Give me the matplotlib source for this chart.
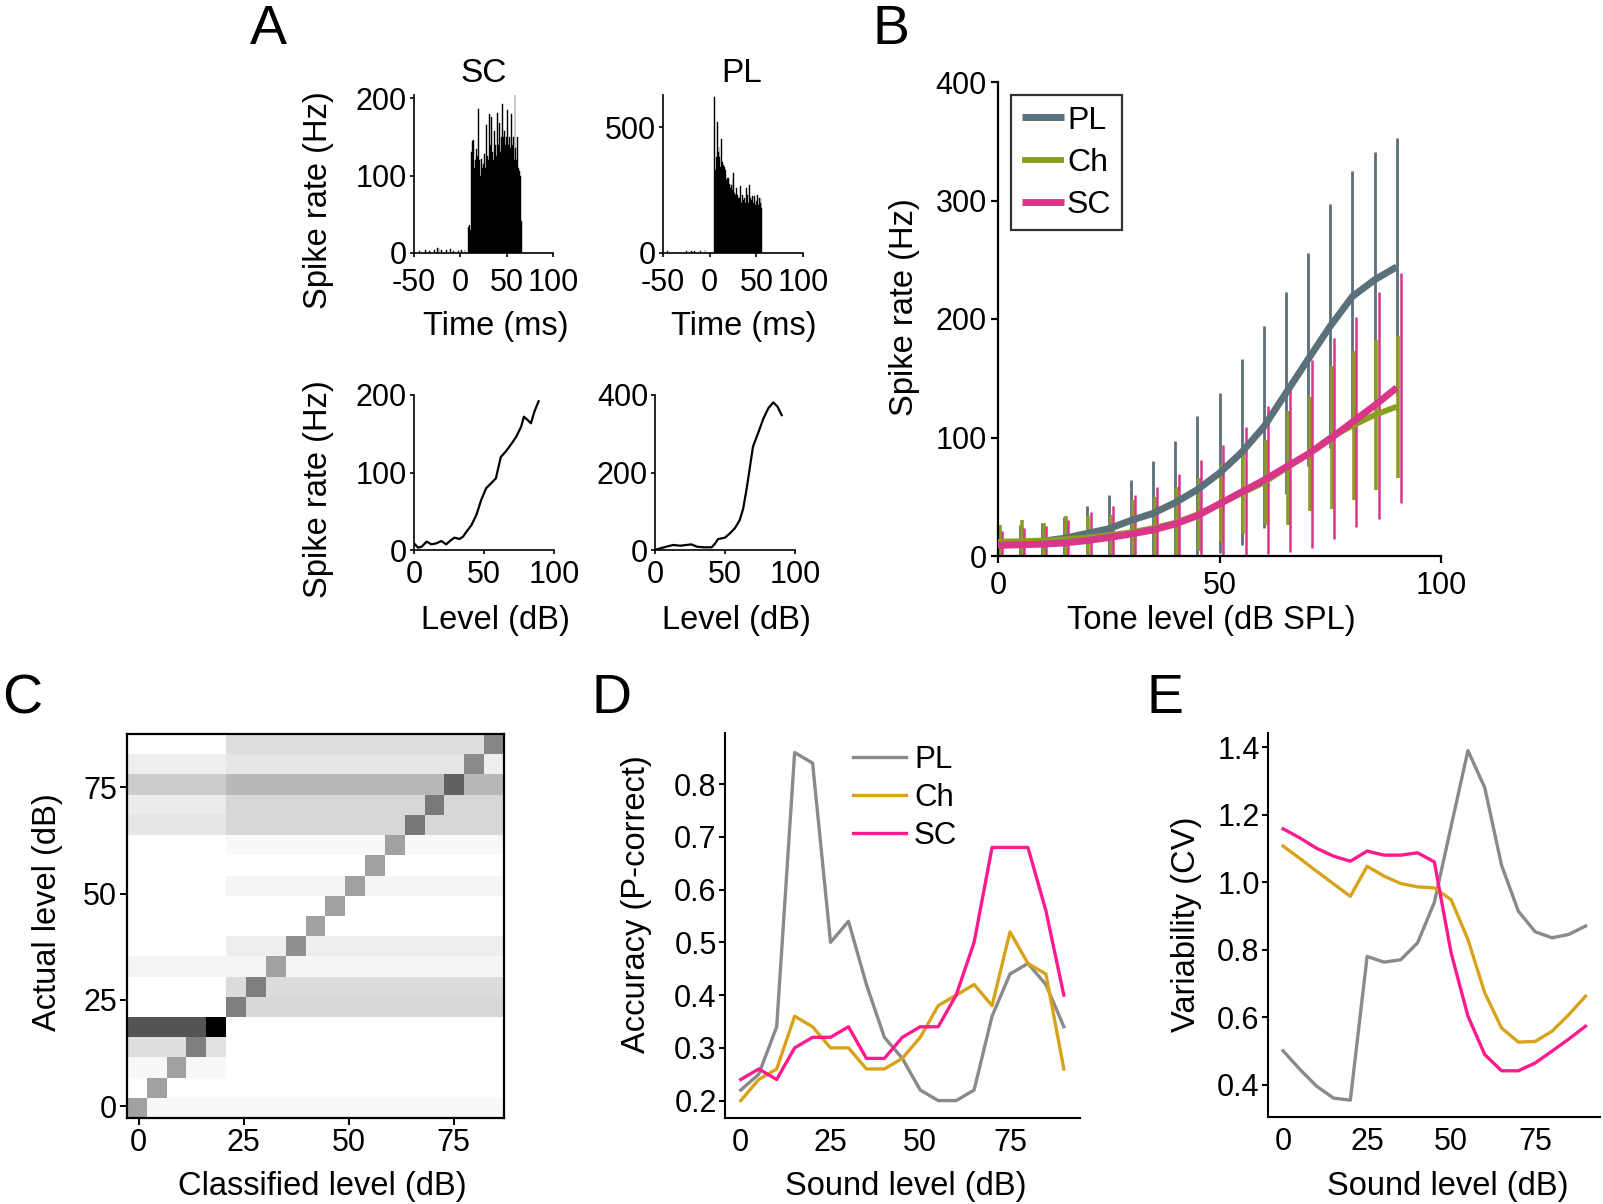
import numpy as np
import matplotlib
matplotlib.use("Agg")
import matplotlib.pyplot as plt

plt.rcParams['font.family'] = ['Liberation Sans', 'DejaVu Sans']
plt.rcParams['axes.unicode_minus'] = False

W, H = 1603, 1204

# ---------------- Panel A data ----------------
# PSTH, SC unit (time in ms, rate in Hz)
sc_psth_t = [-44, -38, -33, -28, -25, -23, -20, -15, -11, -7, -2, 1, 5, 9, 10, 11,
             12, 13, 14, 15, 16, 17, 18, 19, 20, 21, 22, 23, 24, 25, 26, 27, 28, 29,
             30, 31, 32, 33, 34, 35, 36, 37, 38, 39, 40, 41, 42, 43, 44, 45, 46, 47,
             48, 49, 50, 51, 52, 53, 54, 55, 56, 57, 58, 59, 60, 61, 62, 63, 64, 65, 66]
sc_psth_r = [3, 4, 3, 4, 6, 7, 4, 4, 5, 3, 3, 4, 4, 33, 36, 30,
             130, 145, 146, 110, 120, 134, 105, 125, 186, 120, 100, 122, 110, 115, 128, 110, 165, 125,
             120, 180, 130, 140, 176, 130, 120, 158, 140, 125, 181, 140, 168, 130, 150, 135, 193, 150,
             158, 140, 150, 185, 140, 150, 135, 180, 140, 150, 120, 204, 135, 120, 150, 110, 106, 100, 41]

# PSTH, PL unit
pl_psth_t = [-45, -25, -19, -16, -10, -5,
             5, 6, 7, 8, 9, 10, 11, 12, 13, 14, 15, 16, 17, 18, 19, 20, 21, 22, 23, 24, 25,
             26, 27, 28, 29, 30, 31, 32, 33, 34, 35, 36, 37, 38, 39, 40, 41, 42, 43, 44, 45,
             46, 47, 48, 49, 50, 51, 52, 53, 54, 55, 56]
pl_psth_r = [6, 7, 7, 9, 7, 11,
             620, 330, 380, 520, 400, 420, 380, 340, 455, 360, 350, 340, 330, 290, 300, 300, 275,
             260, 270, 250, 300, 318, 240, 232, 259, 230, 219, 220, 265, 200, 232, 210, 219, 200,
             259, 215, 232, 200, 272, 219, 210, 225, 200, 225, 190, 205, 232, 190, 219, 200, 219, 180]

# Rate-level functions (level dB, rate Hz)
sc_rl_level = [0, 3, 5.5, 9, 12.5, 16, 19.5, 23, 26.5, 29, 32.5, 35, 37.5, 41, 44.5, 48,
               51.5, 55, 58.5, 62, 65.5, 69, 73, 76.5, 78.5, 81, 83.5, 86, 89]
sc_rl_rate = [8.6, 3, 4.3, 10.8, 7.3, 8.6, 11.6, 7.3, 12.9, 16, 14.2, 17.2, 23.7, 32, 45, 64.5,
              79.6, 86, 92.5, 120, 127, 135.5, 146, 159, 172, 168, 163.5, 178.5, 192]
pl_rl_level = [0, 3.5, 8, 13, 18, 22.5, 26, 30, 34.5, 40.5, 43, 45, 50, 53.5, 57, 60.5,
               63, 65.5, 68, 70, 74, 77.5, 81, 84.5, 87.5, 90.5]
pl_rl_rate = [0, 4, 8.5, 13, 11, 13, 14.5, 8.5, 7, 7, 17, 28, 32, 43, 56, 77,
              107, 159, 219, 267, 305, 340, 366, 381, 370, 348]

# ---------------- Panel B data ----------------
tone_levels = [0, 5, 10, 15, 20, 25, 30, 35, 40, 45, 50, 55, 60, 65, 70, 75, 80, 85, 90]
b_pl_mean = [9.4, 11, 12.5, 15, 19, 23, 30, 36, 45, 56, 70, 87.5, 109, 137.5, 166, 194, 219, 233, 244]
b_pl_sd = [14, 15, 15, 18, 23, 28.5, 34, 44, 52, 62, 67.5, 78.5, 85, 85.5, 90, 103, 106, 108, 109]
b_ch_mean = [12, 12.5, 13, 14, 15.5, 17.5, 20, 23.5, 28, 35, 44, 53, 62, 74, 86, 100, 110, 119, 126]
b_ch_sd = [14, 17.5, 15, 20, 18.5, 17.5, 27, 26.5, 30, 30.6, 32.6, 34.5, 36, 48, 48, 60, 63, 63, 60]
b_sc_mean = [9, 9.5, 10, 11, 13, 15.5, 18.5, 22, 27, 34, 44, 54, 64, 75, 86, 99, 113, 127, 142]
b_sc_sd = [12, 14.5, 15.6, 19, 24, 26.5, 33, 36, 42, 47, 50, 55, 62.5, 72, 79, 85, 88.5, 95.5, 97]

# ---------------- Panel C data (confusion matrix, rows = actual level) ----------------
confusion = [
    [0.37] + [0.03] * 18,                                           # 0 dB
    [0.0, 0.37] + [0.0] * 17,                                       # 5
    [0.03, 0.03, 0.37, 0.03, 0.03] + [0.0] * 14,                    # 10
    [0.13, 0.13, 0.13, 0.50, 0.12] + [0.0] * 14,                    # 15
    [0.67, 0.67, 0.67, 0.67, 1.0] + [0.0] * 14,                     # 20
    [0.0] * 5 + [0.50] + [0.16] * 13,                               # 25
    [0.0] * 5 + [0.14, 0.50] + [0.14] * 12,                         # 30
    [0.04] * 7 + [0.37] + [0.04] * 11,                              # 35
    [0.0] * 5 + [0.07] * 3 + [0.44] + [0.07] * 10,                  # 40
    [0.0] * 9 + [0.37] + [0.0] * 9,                                 # 45
    [0.0] * 10 + [0.37] + [0.0] * 8,                                # 50
    [0.0] * 5 + [0.04] * 6 + [0.37] + [0.04] * 7,                   # 55
    [0.0] * 12 + [0.37] + [0.0] * 6,                                # 60
    [0.0] * 5 + [0.03] * 8 + [0.37] + [0.03] * 5,                   # 65
    [0.10] * 5 + [0.16] * 9 + [0.53] + [0.16] * 4,                  # 70
    [0.075] * 5 + [0.16] * 10 + [0.52] + [0.16] * 3,                # 75
    [0.20] * 5 + [0.28] * 11 + [0.62] + [0.28] * 2,                 # 80
    [0.07] * 5 + [0.10] * 12 + [0.46] + [0.07],                     # 85
    [0.0] * 5 + [0.13] * 13 + [0.47],                               # 90
]

# ---------------- Panel D / E data ----------------
sound_levels = [0, 5, 10, 15, 20, 25, 30, 35, 40, 45, 50, 55, 60, 65, 70, 75, 80, 85, 90]
acc_pl = [0.22, 0.25, 0.34, 0.86, 0.84, 0.50, 0.54, 0.42, 0.32, 0.28, 0.22, 0.20, 0.20, 0.22, 0.36, 0.44, 0.46, 0.42, 0.34]
acc_ch = [0.20, 0.24, 0.26, 0.36, 0.34, 0.30, 0.30, 0.26, 0.26, 0.28, 0.32, 0.38, 0.40, 0.42, 0.38, 0.52, 0.46, 0.44, 0.26]
acc_sc = [0.24, 0.26, 0.24, 0.30, 0.32, 0.32, 0.34, 0.28, 0.28, 0.32, 0.34, 0.34, 0.40, 0.50, 0.68, 0.68, 0.68, 0.56, 0.40]

cv_pl = [0.50, 0.445, 0.395, 0.36, 0.354, 0.78, 0.763, 0.77, 0.82, 0.94, 1.166, 1.39, 1.28, 1.05, 0.914, 0.853, 0.835, 0.845, 0.87]
cv_ch = [1.107, 1.07, 1.032, 0.995, 0.958, 1.047, 1.018, 0.996, 0.986, 0.983, 0.948, 0.83, 0.672, 0.568, 0.526, 0.528, 0.558, 0.607, 0.662]
cv_sc = [1.158, 1.131, 1.10, 1.077, 1.062, 1.092, 1.08, 1.08, 1.087, 1.06, 0.79, 0.603, 0.489, 0.441, 0.441, 0.464, 0.499, 0.535, 0.573]

# ---------------- styling ----------------
B_COL = {'PL': '#5b707a', 'Ch': '#8a9e22', 'SC': '#d9358a'}
DE_COL = {'PL': '#8a8a8a', 'Ch': '#d9a21b', 'SC': '#ff1a90'}
TICK_FS = 22
LAB_FS = 23.5

fig = plt.figure(figsize=(W / 100, H / 100), dpi=100)


def ax_px(l, t, r, b):
    return fig.add_axes([l / W, 1 - b / H, (r - l) / W, (b - t) / H])


def ftext(x, y, s, va='center', **kw):
    fig.text(x / W, 1 - y / H, s, ha='center', va=va, **kw)


def style(ax, lw=1.4, ticklen=4, pad=3):
    for sp in ['top', 'right']:
        ax.spines[sp].set_visible(False)
    for sp in ['left', 'bottom']:
        ax.spines[sp].set_linewidth(lw)
    ax.tick_params(labelsize=TICK_FS, length=ticklen, width=lw, pad=pad, direction='out')


# ---- A: PSTHs
ax = ax_px(414, 95, 553, 253)
ax.bar(sc_psth_t, sc_psth_r, width=1.0, color='black', edgecolor='black', linewidth=0.3)
ax.set_xlim(-50, 100)
ax.set_ylim(0, 204)
ax.set_xticks([-50, 0, 50, 100])
ax.set_yticks([0, 100, 200])
style(ax, lw=1.2, ticklen=3, pad=2)
ax.tick_params(axis='x', pad=8)

ax = ax_px(663, 95, 803, 253)
ax.bar(pl_psth_t, pl_psth_r, width=1.0, color='black', edgecolor='black', linewidth=0.3)
ax.set_xlim(-50, 100)
ax.set_ylim(0, 628)
ax.set_xticks([-50, 0, 50, 100])
ax.set_yticks([0, 500])
style(ax, lw=1.2, ticklen=3, pad=2)
ax.tick_params(axis='x', pad=8)

ax = ax_px(414, 395, 554, 550)
ax.plot(sc_rl_level, sc_rl_rate, color='black', lw=1.6)
ax.set_xlim(0, 100)
ax.set_ylim(0, 200)
ax.set_xticks([0, 50, 100])
ax.set_yticks([0, 100, 200])
style(ax, lw=1.2, ticklen=3, pad=2)
ax.tick_params(axis='x', pad=4)

ax = ax_px(655, 395, 795, 550)
ax.plot(pl_rl_level, pl_rl_rate, color='black', lw=1.6)
ax.set_xlim(0, 100)
ax.set_ylim(0, 400)
ax.set_xticks([0, 50, 100])
ax.set_yticks([0, 200, 400])
style(ax, lw=1.2, ticklen=3, pad=2)
ax.tick_params(axis='x', pad=4)

ftext(484, 73, 'SC', fontsize=24)
ftext(742, 73, 'PL', fontsize=24)
ftext(318, 200, 'Spike rate (Hz)', fontsize=LAB_FS, rotation=90)
ftext(318, 489, 'Spike rate (Hz)', fontsize=LAB_FS, rotation=90)
ftext(496, 327, 'Time (ms)', fontsize=LAB_FS)
ftext(744, 327, 'Time (ms)', fontsize=LAB_FS)
ftext(495, 620, 'Level (dB)', fontsize=LAB_FS)
ftext(736, 620, 'Level (dB)', fontsize=LAB_FS)

# ---- B
ax = ax_px(998, 82, 1441, 556)
tl = np.array(tone_levels, dtype=float)
ax.errorbar(tl, b_pl_mean, yerr=b_pl_sd, fmt='none', ecolor=B_COL['PL'], elinewidth=2.0, capsize=0, zorder=2)
ax.errorbar(tl + 0.4, b_ch_mean, yerr=b_ch_sd, fmt='none', ecolor=B_COL['Ch'], elinewidth=2.6, capsize=0, zorder=2.1)
ax.errorbar(tl + 0.9, b_sc_mean, yerr=b_sc_sd, fmt='none', ecolor=B_COL['SC'], elinewidth=1.8, capsize=0, zorder=2.2)
ax.plot(tl, b_pl_mean, color=B_COL['PL'], lw=5, label='PL', zorder=3, solid_capstyle='butt')
ax.plot(tl, b_ch_mean, color=B_COL['Ch'], lw=4.2, label='Ch', zorder=4, solid_capstyle='butt')
ax.plot(tl, b_sc_mean, color=B_COL['SC'], lw=5, label='SC', zorder=5, solid_capstyle='butt')
ax.set_xlim(0, 100)
ax.set_ylim(0, 400)
ax.set_xticks([0, 50, 100])
ax.set_yticks([0, 100, 200, 300, 400])
style(ax, lw=1.6, ticklen=5, pad=3)
ax.tick_params(axis='x', pad=6)
leg = ax.legend(loc='upper left', bbox_to_anchor=(1011 / W, 1 - 95 / H), bbox_transform=fig.transFigure,
                fontsize=23, frameon=True, fancybox=False, edgecolor='black', borderaxespad=0,
                borderpad=0.33, handlelength=1.32, handletextpad=0.1, labelspacing=0.38)
leg.get_frame().set_linewidth(1.6)
ftext(904, 307, 'Spike rate (Hz)', fontsize=LAB_FS, rotation=90)
ftext(1211, 620, 'Tone level (dB SPL)', fontsize=LAB_FS)

# ---- C
ax = ax_px(127, 734, 504, 1118)
ax.imshow(np.array(confusion), cmap='gray_r', vmin=0, vmax=1, origin='lower',
          extent=(-2.75, 87.0, -2.75, 87.5), aspect='auto', interpolation='nearest')
ax.set_xticks([0, 25, 50, 75])
ax.set_yticks([0, 25, 50, 75])
for sp in ax.spines.values():
    sp.set_linewidth(1.6)
ax.tick_params(labelsize=TICK_FS, length=5, width=1.4, pad=2)
ftext(48, 912, 'Actual level (dB)', fontsize=LAB_FS, rotation=90)
ftext(322, 1186, 'Classified level (dB)', fontsize=LAB_FS)

# ---- D
ax = ax_px(725, 733, 1080, 1118)
ax.plot(sound_levels, acc_pl, color=DE_COL['PL'], lw=2.4, label='PL')
ax.plot(sound_levels, acc_ch, color=DE_COL['Ch'], lw=2.4, label='Ch')
ax.plot(sound_levels, acc_sc, color=DE_COL['SC'], lw=2.4, label='SC')
ax.set_xlim(-4.4, 94.5)
ax.set_ylim(0.167, 0.897)
ax.set_xticks([0, 25, 50, 75])
ax.set_yticks([0.2, 0.3, 0.4, 0.5, 0.6, 0.7, 0.8])
style(ax, lw=1.5, ticklen=4, pad=2)
ax.tick_params(axis='x', length=0, pad=7)
ax.legend(loc='upper left', bbox_to_anchor=(853 / W, 1 - 745 / H), bbox_transform=fig.transFigure,
          fontsize=22.5, frameon=False, borderaxespad=0, borderpad=0, handlelength=1.7,
          handletextpad=0.25, labelspacing=0.25)
ftext(636, 904, 'Accuracy (P-correct)', fontsize=LAB_FS, rotation=90)
ftext(906, 1186, 'Sound level (dB)', fontsize=LAB_FS)

# ---- E
ax = ax_px(1268, 733, 1600, 1117)
ax.plot(sound_levels, cv_pl, color=DE_COL['PL'], lw=2.4)
ax.plot(sound_levels, cv_ch, color=DE_COL['Ch'], lw=2.4)
ax.plot(sound_levels, cv_sc, color=DE_COL['SC'], lw=2.4)
ax.set_xlim(-4.5, 94.3)
ax.set_ylim(0.304, 1.442)
ax.set_xticks([0, 25, 50, 75])
ax.set_yticks([0.4, 0.6, 0.8, 1.0, 1.2, 1.4])
ax.set_yticklabels(['0.4', '0.6', '0.8', '1.0', '1.2', '1.4'])
style(ax, lw=1.5, ticklen=4, pad=2)
ax.tick_params(axis='x', length=0, pad=7)
ftext(1186, 924, 'Variability (CV)', fontsize=LAB_FS, rotation=90)
ftext(1448, 1186, 'Sound level (dB)', fontsize=LAB_FS)

# ---- panel letters (baseline positions)
for x, y, s in [(268, 44, 'A'), (891, 44, 'B'), (22, 713, 'C'), (611, 713, 'D'), (1165, 713, 'E')]:
    ftext(x, y, s, va='baseline', fontsize=40)

fig.savefig('out.png', dpi=100)
